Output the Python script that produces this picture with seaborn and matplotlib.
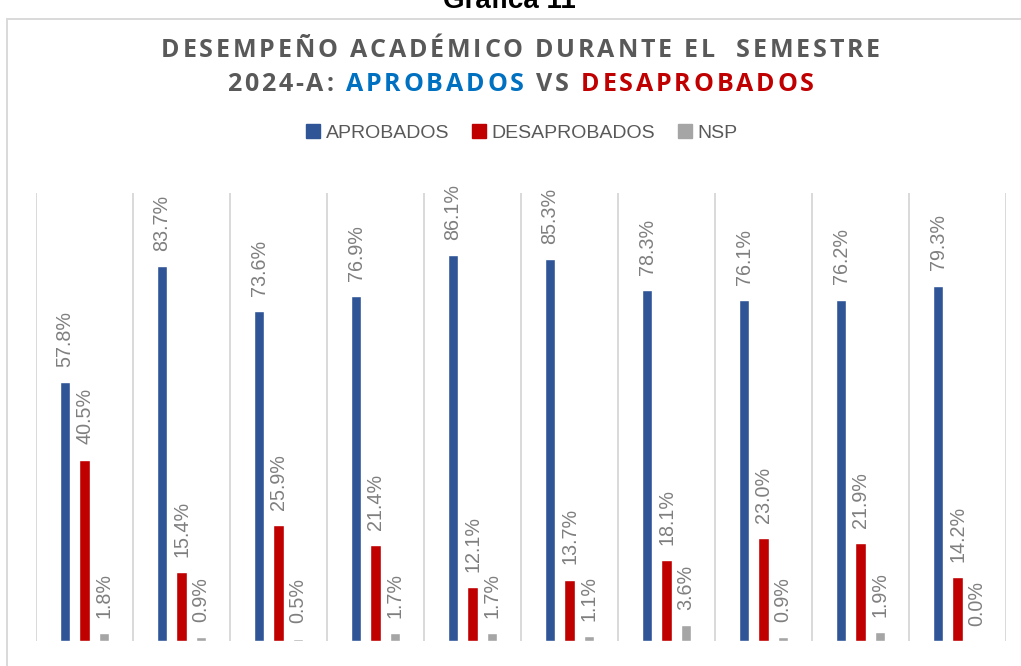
import pandas as pd
import matplotlib.pyplot as plt
import seaborn as sns
from matplotlib.patches import Patch, Rectangle

# ----------------------------
# Data
# ----------------------------
grupos = [f"G{i}" for i in range(1, 11)]
aprobados = [57.8, 83.7, 73.6, 76.9, 86.1, 85.3, 78.3, 76.1, 76.2, 79.3]
desaprobados = [40.5, 15.4, 25.9, 21.4, 12.1, 13.7, 18.1, 23.0, 21.9, 14.2]
nsp = [1.8, 0.9, 0.5, 1.7, 1.7, 1.1, 3.6, 0.9, 1.9, 0.0]
series = ["APROBADOS", "DESAPROBADOS", "NSP"]
colores = ["#2F5597", "#C00000", "#A5A5A5"]

df = pd.DataFrame({"grupo": grupos, "APROBADOS": aprobados,
                   "DESAPROBADOS": desaprobados, "NSP": nsp})
df = df.melt(id_vars="grupo", var_name="serie", value_name="valor")

W, H = 1021, 666
sns.set_style("white")
plt.rcParams["font.family"] = ["Liberation Sans", "DejaVu Sans"]

fig = plt.figure(figsize=(W / 100, H / 100), dpi=100)
ax = fig.add_axes([36 / W, 1 - 641 / H, (1006 - 36) / W, (641 - 193) / H])

# separadores verticales
for i in range(11):
    ax.axvline(i - 0.5, color="#D9D9D9", lw=1.4, zorder=0)

sns.barplot(data=df, x="grupo", y="valor", hue="serie", hue_order=series,
            palette=colores, width=0.6, gap=0.46, saturation=1,
            legend=False, ax=ax, zorder=2)

for cont in ax.containers:
    ax.bar_label(cont, labels=[f"{v:.1f}%" for v in cont.datavalues],
                 rotation=90, padding=11, fontsize=14.2, color="#7F7F7F")

ax.set_xlim(-0.5, 9.5)
ax.set_ylim(0, 100)
ax.set_xlabel("")
ax.set_ylabel("")
ax.set_xticks([])
ax.set_yticks([])
sns.despine(ax=ax, left=True, bottom=True)

# leyenda
handles = [Patch(color=c) for c in colores]
fig.legend(handles, series, loc="center", bbox_to_anchor=(0.511, 1 - 133 / H),
           ncol=3, frameon=False, fontsize=14, labelcolor="#595959",
           handlelength=0.72, handleheight=0.72, handletextpad=0.3,
           columnspacing=1.15)

# borde del grafico
fig.patches.append(Rectangle((7 / W, -0.1), 1.2, 1.1 - 19 / H, fill=False,
                             edgecolor="#D9D9D9", lw=1.4,
                             transform=fig.transFigure, figure=fig))

fig.text(0.499, 1 - 8 / H, "Gráfica 11", ha="center", va="baseline",
         fontsize=20, fontweight="bold", family="Liberation Sans", color="black")

# titulo con espaciado entre letras
renderer = fig.canvas.get_renderer()


def titulo_espaciado(segmentos, y_px, size=18, espacio=2.8):
    textos = []
    x = 0
    for s, color in segmentos:
        for ch in s:
            if ch == " ":
                x += 0.26 * size * 100 / 72 + espacio
                continue
            t = fig.text(0, 1 - y_px / H, ch, color=color, fontsize=size,
                         fontweight="bold", family="Open Sans", va="baseline")
            w = t.get_window_extent(renderer).width
            textos.append((t, x))
            x += w + espacio
    total = x - espacio
    x0 = 0.51 * W - total / 2
    for t, dx in textos:
        t.set_x((x0 + dx) / W)


gris = "#595959"
titulo_espaciado([("DESEMPEÑO ACADÉMICO DURANTE EL  SEMESTRE", gris)], 57)
titulo_espaciado([("2024-A: ", gris), ("APROBADOS", "#0070C0"),
                  (" VS ", gris), ("DESAPROBADOS", "#C00000")], 91)

fig.savefig("out.png", dpi=100)
